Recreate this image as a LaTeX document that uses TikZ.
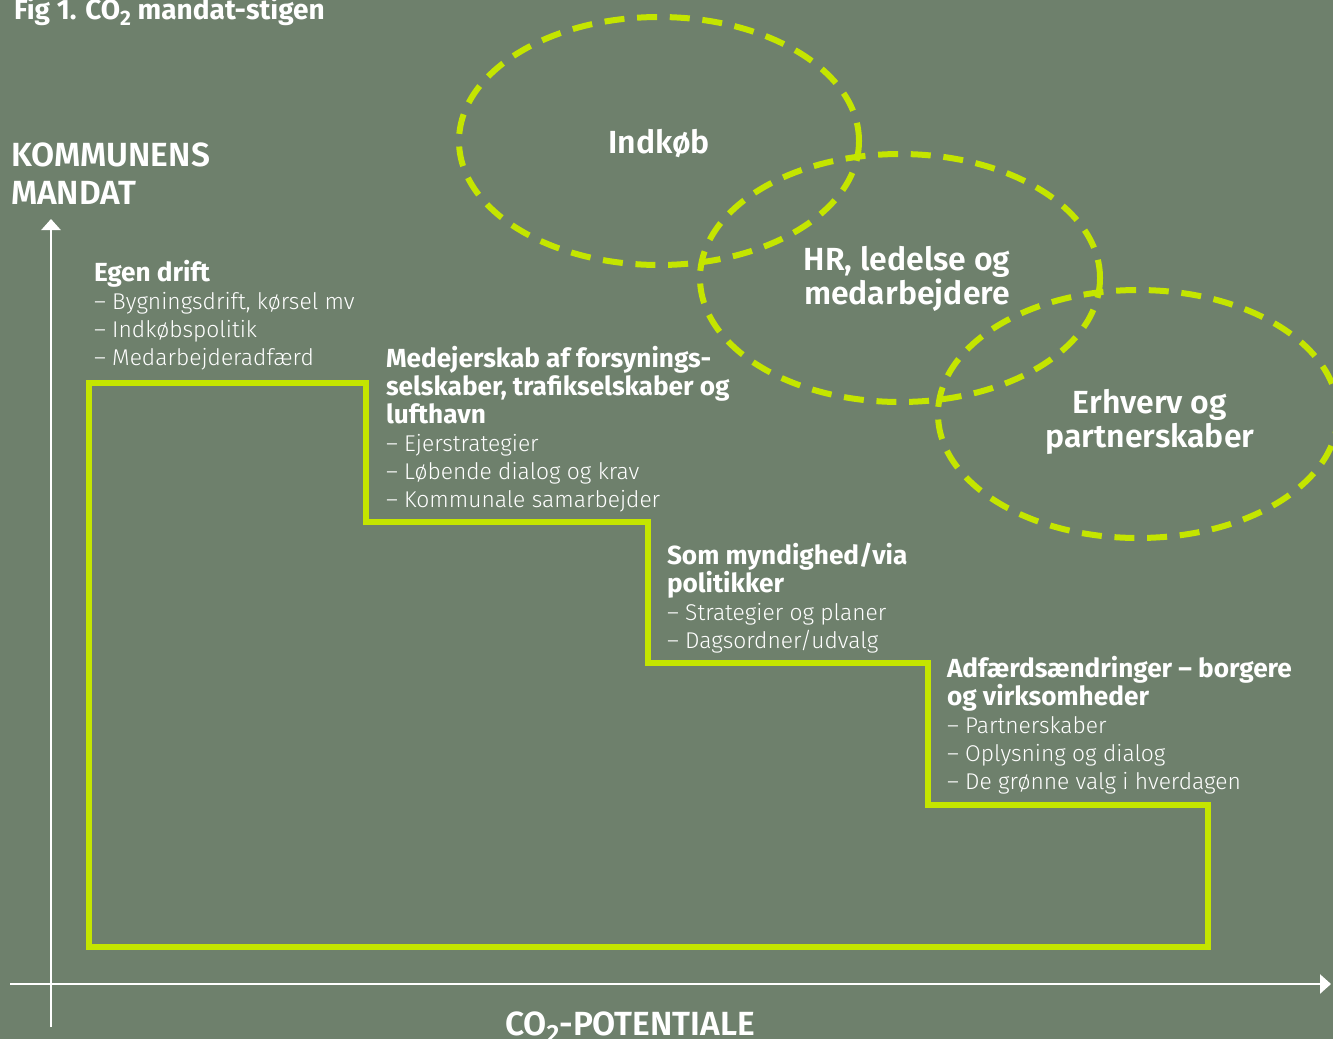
\documentclass[tikz,border=0pt]{standalone}
\usepackage{fontspec}
\setmainfont{Fira Sans}
\newfontfamily\lightf{Fira Sans Light}
\newfontfamily\semif{Fira Sans SemiBold}
\usetikzlibrary{arrows.meta}
\definecolor{bg}{HTML}{6E806C}
\definecolor{lime}{HTML}{C4E500}
\newcommand\subtwo[1]{\raisebox{-0.22em}{\fontsize{#1}{#1}\selectfont 2}}
\begin{document}
\begin{tikzpicture}[x=1pt,y=-1pt,
  every node/.style={text=white, inner sep=0pt, outer sep=0pt},
  head/.style={anchor=base west, font=\fontsize{26.2}{28}\selectfont\bfseries},
  item/.style={anchor=base west, font=\fontsize{22.8}{28}\selectfont\lightf},
  bubble/.style={anchor=base, font=\fontsize{32}{34}\selectfont\semif},
  axislabel/.style={font=\fontsize{33.5}{38}\selectfont\semif},
  axis/.style={draw=white, line width=2.5pt, -{Triangle[length=11pt,width=19pt]}},
  stair/.style={draw=lime, line width=6pt, line join=miter},
  ring/.style={draw=lime, line width=6pt, dash pattern=on 20pt off 12.7pt}]
\fill[bg] (0,0) rectangle (1333,1039);
\useasboundingbox (0,0) rectangle (1333,1039);

% title
\node[anchor=base west, font=\fontsize{28}{30}\selectfont\bfseries] (title) at (14,19) {Fig 1. CO\subtwo{21} mandat-stigen};

% ellipses
\draw[ring] (659,141) ellipse [x radius=200, y radius=124];
\draw[ring] (900,278) ellipse [x radius=200, y radius=124];
\draw[ring] (1138,414) ellipse [x radius=200, y radius=124];
\node[bubble] (e1) at (659,153) {Indkøb};
\node[bubble] (e2a) at (907,270) {HR, ledelse og};
\node[bubble] (e2b) at (907,304) {medarbejdere};
\node[bubble] (e3a) at (1150,413) {Erhverv og};
\node[bubble] (e3b) at (1150,447) {partnerskaber};

% axes
\coordinate (yb) at (51,1027);
\coordinate (yt) at (51,219);
\coordinate (xl) at (10,984);
\coordinate (xr) at (1331,984);
\draw[axis] (yb) -- (yt);
\draw[axis] (xl) -- (xr);
\node[axislabel, anchor=base west] (ya) at (11,166) {KOMMUNENS};
\node[axislabel, anchor=base west] (yb2) at (11,204) {MANDAT};
\node[axislabel, anchor=base] (xa) at (630,1035) {CO\subtwo{25}-POTENTIALE};

% staircase
\draw[stair] (89,383) -- (366,383) -- (366,522) -- (648,522) -- (648,663)
  -- (928,663) -- (928,805) -- (1208,805) -- (1208,947) -- (89,947) -- cycle;

% block A
\node[head] (a1) at (94,281) {Egen drift};
\node[item] (a2) at (94,309) {– Bygningsdrift, kørsel mv};
\node[item] (a3) at (94,337) {– Indkøbspolitik};
\node[item] (a4) at (94,365) {– Medarbejderadfærd};

% block B
\node[head] (b1) at (386,367) {Medejerskab af forsynings-};
\node[head] (b2) at (386,395) {selskaber, trafikselskaber og};
\node[head] (b3) at (386,423) {lufthavn};
\node[item] (b4) at (386,451) {– Ejerstrategier};
\node[item] (b5) at (386,479) {– Løbende dialog og krav};
\node[item] (b6) at (386,507) {– Kommunale samarbejder};

% block C
\node[head] (c1) at (667,564) {Som myndighed/via};
\node[head] (c2) at (667,592) {politikker};
\node[item] (c3) at (667,620) {– Strategier og planer};
\node[item] (c4) at (667,648) {– Dagsordner/udvalg};

% block D
\node[head] (d1) at (947,677) {Adfærdsændringer – borgere};
\node[head] (d2) at (947,705) {og virksomheder};
\node[item] (d3) at (947,733) {– Partnerskaber};
\node[item] (d4) at (947,761) {– Oplysning og dialog};
\node[item] (d5) at (947,789) {– De grønne valg i hverdagen};
\end{tikzpicture}
\end{document}
